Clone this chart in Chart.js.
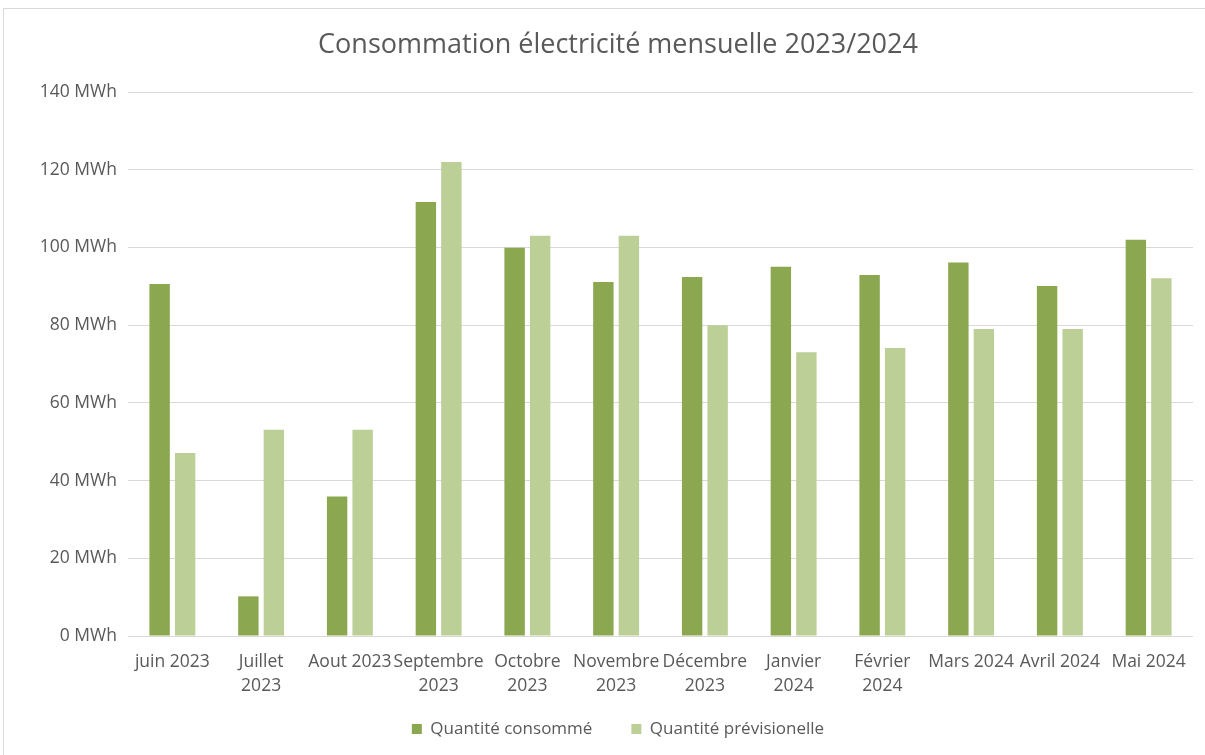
<!DOCTYPE html>
<html>
<head>
<meta charset="utf-8">
<script src="https://cdn.jsdelivr.net/npm/chart.js@4/dist/chart.umd.min.js"></script>
<style>
    html, body { margin: 0; padding: 0; background: #fff; overflow: hidden; }
    #frame {
        position: absolute; left: 3px; top: 8px;
        width: 1240px; height: 800px;
        border: 1px solid #d9d9d9;
        background: #fff;
    }
    #chart { display: block; }
</style>
</head>
<body>
<div id="frame">
    <canvas id="chart" width="1228" height="746"></canvas>
</div>
<script>
const months = [
    'juin 2023', ['Juillet', '2023'], 'Aout 2023', ['Septembre', '2023'],
    ['Octobre', '2023'], ['Novembre', '2023'], ['Décembre', '2023'],
    ['Janvier', '2024'], ['Février', '2024'], 'Mars 2024', 'Avril 2024', 'Mai 2024'
];
const consumed = [90.6, 10.2, 35.9, 111.7, 99.9, 91.1, 92.4, 95.0, 92.9, 96.1, 90.1, 102.0];
const forecast = [47.1, 53.1, 53.1, 122.0, 103.0, 103.0, 80.0, 73.0, 74.1, 79.0, 79.0, 92.1];
const yTicks = [0, 20, 40, 60, 80, 100, 120, 140];

const textColor = '#595959';
const font = 'Open Sans';

// the x labels wrap onto two lines which run under the legend's top padding;
// chart.js clips labels to the scale box, so stretch that box after layout
const unclipLabels = {
    id: 'unclipLabels',
    afterLayout(chart) {
        chart.scales.x.bottom += 20;
    }
};

let consumptionChart = new Chart(document.getElementById('chart'), {
    type: 'bar',
    data: {
        labels: months,
        datasets: [
            {
                label: 'Quantité consommé',
                data: consumed,
                backgroundColor: 'rgb(139, 167, 80)',
            },
            {
                label: 'Quantité prévisionelle',
                data: forecast,
                backgroundColor: 'rgb(187, 207, 150)',
            }
        ]
    },
    plugins: [unclipLabels],
    options: {
        responsive: false,
        animation: false,
        categoryPercentage: 0.575,
        barPercentage: 0.8,
        layout: { padding: { left: 0, right: 0, top: 0, bottom: 7.5 } },
        plugins: {
            title: {
                display: true,
                text: 'Consommation électricité mensuelle 2023/2024',
                color: textColor,
                font: { family: font, size: 27, weight: 'normal', lineHeight: 1.2 },
                padding: { top: 20, bottom: 30.6 }
            },
            legend: {
                position: 'bottom',
                labels: {
                    color: textColor,
                    font: { family: font, size: 17 },
                    boxWidth: 10,
                    boxHeight: 10,
                    padding: 39
                }
            },
            tooltip: { enabled: false }
        },
        scales: {
            x: {
                grid: { display: false, drawTicks: false },
                border: { display: false },
                ticks: {
                    color: textColor,
                    font: { family: font, size: 17.5, lineHeight: 1.37 },
                    padding: 14,
                    maxRotation: 0,
                    autoSkip: false
                },
                afterFit: scale => { scale.height = 45.5; }
            },
            y: {
                min: yTicks[0],
                max: yTicks[yTicks.length - 1],
                grid: { color: '#d9d9d9', lineWidth: 1, drawTicks: false },
                border: { display: false },
                afterBuildTicks: scale => { scale.ticks = yTicks.map(v => ({ value: v })); },
                ticks: {
                    color: textColor,
                    font: { family: font, size: 17.5 },
                    padding: 11,
                    callback: v => v + ' MWh'
                },
                afterFit: scale => { scale.width = 124; }
            },
            // empty right axis so the plot ends where the original does
            y2: {
                position: 'right',
                grid: { display: false, drawTicks: false },
                border: { display: false },
                ticks: { display: false },
                afterFit: scale => { scale.width = 39; }
            }
        }
    }
});
</script>
</body>
</html>
